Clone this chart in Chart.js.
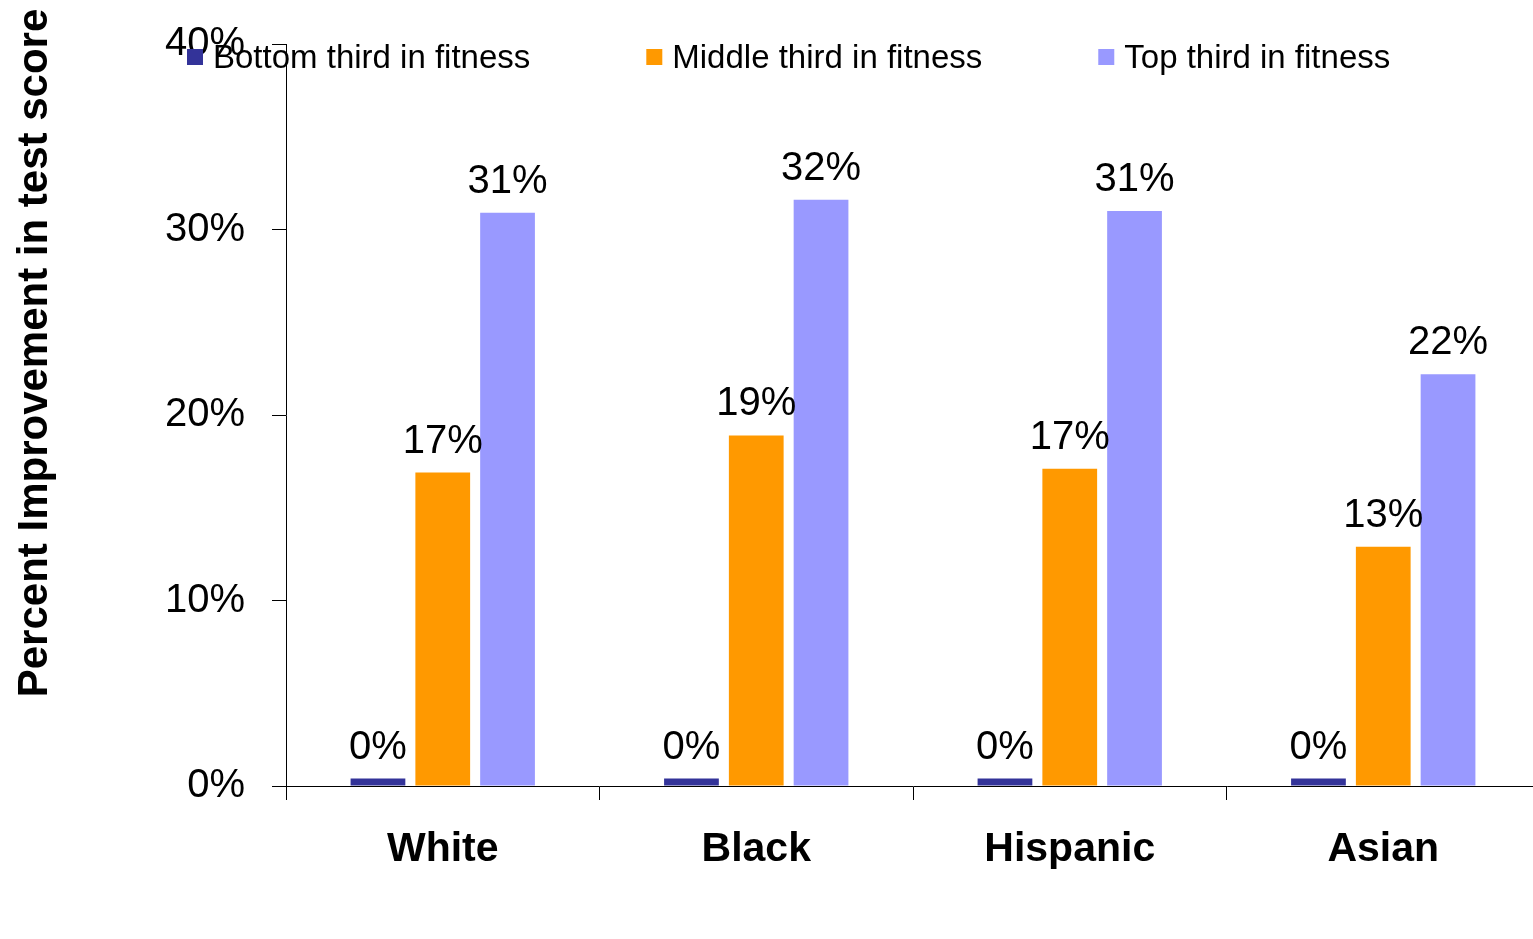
<!DOCTYPE html>
<html>
<head>
<meta charset="utf-8">
<title>Percent Improvement in test score</title>
<script src="https://cdn.jsdelivr.net/npm/chart.js@4.4.0/dist/chart.umd.min.js"></script>
<style>
    html, body { margin: 0; padding: 0; background: #fff; overflow: hidden; }
</style>
</head>
<body>
<!-- el lienzo es un poco más ancho que la ventana: la última categoría queda cortada a la derecha -->
<canvas id="graficoBarras" width="1540" height="939"></canvas>
<script>
// Datos del gráfico
const grupos = ['White', 'Black', 'Hispanic', 'Asian'];
const nombresSeries = ['Bottom third in fitness', 'Middle third in fitness', 'Top third in fitness'];
const tercioInferior = [0.4, 0.4, 0.4, 0.4];
const tercioMedio = [16.9, 18.9, 17.1, 12.9];
const tercioSuperior = [30.9, 31.6, 31.0, 22.2];
const ticksEjeY = [0, 10, 20, 30, 40];
const tituloEjeY = 'Percent Improvement in test score';
const colores = ['#333399', '#FF9900', '#9999FF'];

const FUENTE = '"Liberation Sans", Arial, sans-serif';

// Etiquetas con el valor encima de cada barra
const etiquetasValores = {
    id: 'etiquetasValores',
    afterDatasetsDraw(chart){
        const ctx = chart.ctx;
        ctx.save();
        ctx.font = '40px ' + FUENTE;
        ctx.fillStyle = '#000';
        ctx.textAlign = 'center';
        ctx.textBaseline = 'alphabetic';
        chart.data.datasets.forEach((ds, i) => {
            chart.getDatasetMeta(i).data.forEach((bar, j) => {
                ctx.fillText(Math.round(ds.data[j]) + '%', bar.x, bar.y - 20);
            });
        });
        ctx.restore();
    }
};

// Leyenda dibujada a mano en la parte superior (no ocupa espacio del layout)
const leyenda = {
    id: 'leyenda',
    afterDraw(chart){
        const ctx = chart.ctx;
        ctx.save();
        ctx.font = '33px ' + FUENTE;
        ctx.textBaseline = 'middle';
        ctx.textAlign = 'left';
        let x = 187;
        const y = 57;
        chart.data.datasets.forEach(ds => {
            ctx.fillStyle = ds.backgroundColor;
            ctx.fillRect(x, y - 8, 16, 16);
            ctx.fillStyle = '#000';
            ctx.fillText(ds.label, x + 26, y + 2);
            x += 26 + ctx.measureText(ds.label).width + 116;
        });
        ctx.restore();
    }
};

// Título vertical del eje Y
const tituloY = {
    id: 'tituloY',
    afterDraw(chart){
        const ctx = chart.ctx;
        ctx.save();
        ctx.translate(47, 353);
        ctx.rotate(-Math.PI / 2);
        ctx.font = 'bold 42px ' + FUENTE;
        ctx.fillStyle = '#000';
        ctx.textAlign = 'center';
        ctx.textBaseline = 'alphabetic';
        ctx.fillText(tituloEjeY, 0, 0);
        ctx.restore();
    }
};

const ctx = document.getElementById('graficoBarras').getContext('2d');
new Chart(ctx, {
    type: 'bar',
    data: {
        labels: grupos,
        datasets: [
            { label: nombresSeries[0], data: tercioInferior, backgroundColor: colores[0] },
            { label: nombresSeries[1], data: tercioMedio, backgroundColor: colores[1] },
            { label: nombresSeries[2], data: tercioSuperior, backgroundColor: colores[2] }
        ]
    },
    options: {
        responsive: false,
        animation: false,
        devicePixelRatio: 1,
        layout: { padding: { top: 44, right: 0, left: 0, bottom: 0 } },
        datasets: {
            bar: { barPercentage: 0.845, categoryPercentage: 0.62, borderWidth: 0 }
        },
        plugins: {
            legend: { display: false },
            tooltip: { enabled: false }
        },
        scales: {
            x: {
                offset: true,
                afterFit: s => { s.height = 153; s.paddingLeft = 0; s.paddingRight = 0; },
                grid: { offset: true, drawOnChartArea: false, drawTicks: true, tickLength: 14, color: '#000' },
                border: { display: true, color: '#000', width: 1 },
                ticks: {
                    color: '#000',
                    padding: 25,
                    font: { family: FUENTE, size: 41, weight: 'bold' }
                }
            },
            y: {
                min: 0,
                max: 40,
                afterFit: s => { s.width = 286; s.paddingTop = 0; s.paddingBottom = 0; },
                afterBuildTicks: s => { s.ticks = ticksEjeY.map(v => ({ value: v })); },
                grid: { drawOnChartArea: false, drawTicks: true, tickLength: 14, color: '#000' },
                border: { display: true, color: '#000', width: 1 },
                ticks: {
                    color: '#000',
                    padding: 27,
                    font: { family: FUENTE, size: 40 },
                    callback: v => v + '%'
                }
            }
        }
    },
    plugins: [etiquetasValores, leyenda, tituloY]
});
</script>
</body>
</html>
